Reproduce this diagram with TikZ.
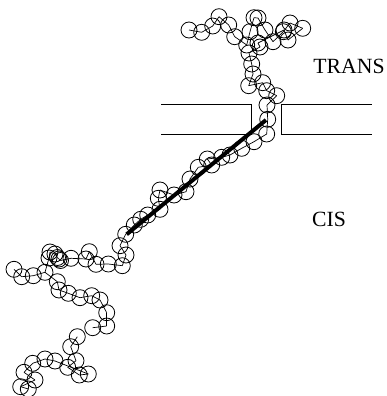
\documentclass[tikz,border=0pt]{standalone}
\usepackage{fontspec}
\setmainfont{Liberation Serif}
\tikzset{
    bead/.style = {draw, circle, inner sep=0pt, minimum size=16pt, line width=.8pt},
    link/.style = {draw, line width=.7pt},
    wall/.style = {draw, line width=.9pt},
    polymer/.style = {draw, line width=4pt},
    region/.style = {font=\fontsize{21.7}{24}\selectfont, inner sep=0pt}
}
\begin{document}
\begin{tikzpicture}[x=1pt,y=-1pt]
    \useasboundingbox (0,0) rectangle (386,396);
    % membrane
    \coordinate (la) at (161,104.3);
    \coordinate (lb) at (251.7,104.3);
    \coordinate (lc) at (251.7,134.5);
    \coordinate (ld) at (161,134.5);
    \coordinate (ra) at (371.7,104.3);
    \coordinate (rb) at (281.7,104.3);
    \coordinate (rc) at (281.7,134.5);
    \coordinate (rd) at (371.7,134.5);
    \draw [wall] (la) -- (lb) -- (lc) -- (ld);
    \draw [wall] (ra) -- (rb) -- (rc) -- (rd);
    % trans side and the pore
    \foreach \i/\x/\y in {1/189/30,2/201.7/32.3,3/212.7/26,4/219/16.7,5/228.7/25,6/234.7/36.7,7/246.7/45,8/250/31.7,9/254/17.7,10/258/18,11/265/30,12/273/41.7,13/283.3/31.7,14/290/23,15/302.7/28.3,16/288/40,17/284/30,18/258/43,19/260/47,20/249/53,21/251.7/64,22/253/74,23/248.7/85.7,24/262.7/82.7,25/266.7/90.7,26/276.7/95.7,27/267/105,28/267.7/119.3,29/266.7/134,
    % cis side along the rod
    30/254/141.7,31/241.7/148.3,32/230/155,33/221.7/157.3,34/207.3/159,35/211.7/165,36/198.3/167.3,37/190/179,38/186/191.7,39/174/195,40/160/190,41/158.3/198.3,42/160/209.3,43/147.7/215,44/140.7/219.3,45/134.3/225,46/125.7/234.3,47/120/245.7,48/126/255,49/122.3/265.7,50/108.3/264,51/96/264.3,52/89.3/251.7,53/86/259,54/71/258.3,55/60.5/260.5,56/59/259,57/57.5/257.5,58/55/254,59/50/252,60/49/258,61/45/272.3,62/33.3/275.7,63/21.7/276.7,64/14/269.3}
        \node [bead] (b\i) at (\x,\y) {};
    \foreach \i/\x/\y in {65/57.3/281.7,66/59/290,67/68.3/293.3,68/80/297.7,69/91.7/295.7,70/100/300,71/106.7/312.7,72/106.7/326,73/92.7/327.7,74/77.3/336.7,75/70.7/346.7,76/76/360.7,77/67.7/367.3,78/79.3/375,79/88.3/374,80/55/361,81/45/359,82/32.7/363.3,83/24/372.3,84/35/380,85/20.7/386.7,86/28.3/389}
        \node [bead] (b\i) at (\x,\y) {};
    % backbone
    \foreach \i [remember=\i as \j (initially 1)] in {2,...,64}
        \draw [link] (b\j.center) -- (b\i.center);
    \draw [link] (b61.center) -- (b65.center);
    \foreach \i [remember=\i as \j (initially 65)] in {66,...,73}
        \draw [link] (b\j.center) -- (b\i.center);
    \foreach \i [remember=\i as \j (initially 74)] in {75,...,86}
        \draw [link] (b\j.center) -- (b\i.center);
    % rod
    \coordinate (rodtop) at (266,120);
    \coordinate (rodend) at (126.7,234.3);
    \draw [polymer] (rodtop) -- (rodend);
    \node [region] (trans) at (349,66) {TRANS};
    \node [region] (cis) at (329,219) {CIS};
\end{tikzpicture}
\end{document}
